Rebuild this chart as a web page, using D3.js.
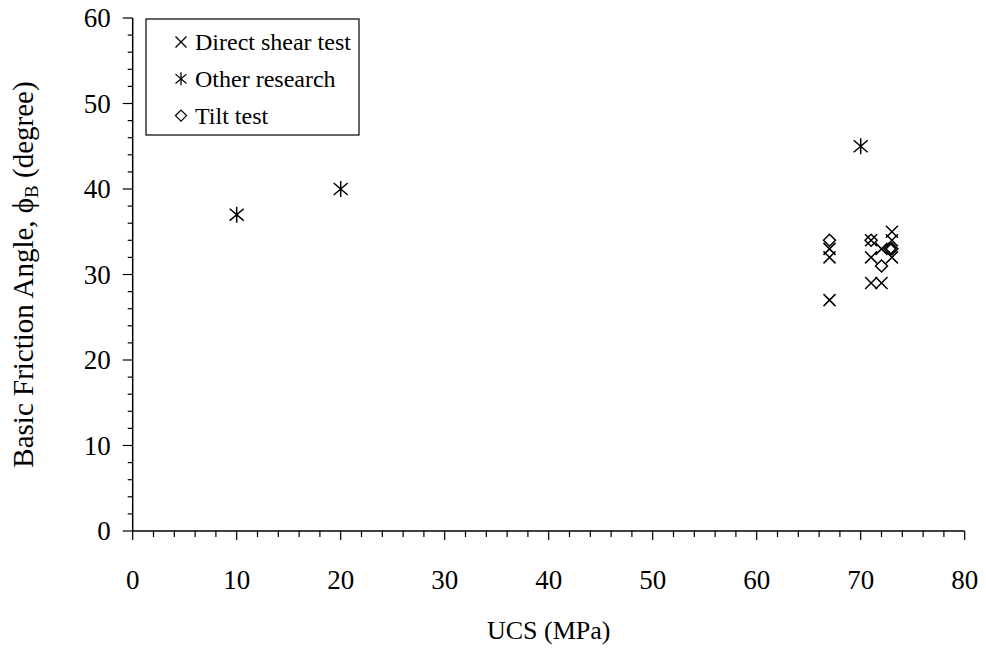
<!DOCTYPE html>
<html>
<head>
<meta charset="utf-8">
<script src="https://cdn.jsdelivr.net/npm/d3@7"></script>
<style>
  html, body { margin: 0; padding: 0; background: #fff; }
</style>
</head>
<body>
<svg id="chart" width="986" height="655" font-family="'Liberation Serif', 'Times New Roman', serif"></svg>
<script>
// UCS (MPa) vs basic friction angle (degree)
const directShearUCS   = [67, 67, 67, 71, 71, 71, 72, 72, 73, 73, 73];
const directShearPhi   = [33, 32, 27, 34, 32, 29, 33, 29, 35, 34, 32];
const otherResearchUCS = [10, 20, 70];
const otherResearchPhi = [37, 40, 45];
const tiltTestUCS      = [67, 71, 72, 72.8, 73];
const tiltTestPhi      = [34, 34, 31, 33, 33];

const xTicks = [0, 10, 20, 30, 40, 50, 60, 70, 80];
const yTicks = [0, 10, 20, 30, 40, 50, 60];
const legendLabels = ["Direct shear test", "Other research", "Tilt test"];

const SERIF = "'Liberation Serif', 'Times New Roman', serif";
const svg = d3.select("#chart");
const x = d3.scaleLinear().domain([0, 80]).range([132.7, 964.7]);
const y = d3.scaleLinear().domain([0, 60]).range([531, 18]);

// marker shapes centred on (0,0)
function crossPath(r) {
  return `M${-r},${-r}L${r},${r}M${r},${-r}L${-r},${r}`;
}
function asteriskPath(r, v) {
  return `M${-r},${-r * 0.85}L${r},${r * 0.85}M${r},${-r * 0.85}L${-r},${r * 0.85}M0,${-v}L0,${v}`;
}
function diamondPath(r) {
  return `M0,${-r}L${r},0L0,${r}L${-r},0Z`;
}

function label(sel, size) {
  return sel.attr("font-family", SERIF).attr("font-size", size).attr("fill", "#000");
}

// x axis
const minorX = d3.range(0, 81, 2);
const xAxis = svg.append("g").attr("transform", `translate(0,${y(0)})`);
xAxis.append("line").attr("x1", x(0)).attr("x2", x(80)).attr("stroke", "#000").attr("stroke-width", 1.5);
xAxis.selectAll(".mtx").data(minorX).join("line")
  .attr("x1", d => x(d)).attr("x2", d => x(d))
  .attr("y1", 0).attr("y2", d => xTicks.includes(d) ? 9 : 6)
  .attr("stroke", "#000").attr("stroke-width", 1.2);
label(xAxis.selectAll(".lx").data(xTicks).join("text"), 27)
  .attr("x", d => x(d)).attr("y", 58)
  .attr("text-anchor", "middle")
  .text(d => d);

// y axis
const minorY = d3.range(0, 61, 2);
const yAxis = svg.append("g").attr("transform", `translate(${x(0)},0)`);
yAxis.append("line").attr("y1", y(0)).attr("y2", y(60)).attr("stroke", "#000").attr("stroke-width", 1.5);
yAxis.selectAll(".mty").data(minorY).join("line")
  .attr("y1", d => y(d)).attr("y2", d => y(d))
  .attr("x1", 0).attr("x2", d => yTicks.includes(d) ? -10 : -5)
  .attr("stroke", "#000").attr("stroke-width", 1.2);
label(yAxis.selectAll(".ly").data(yTicks).join("text"), 27)
  .attr("x", -22).attr("y", d => y(d)).attr("dy", "0.35em")
  .attr("text-anchor", "end")
  .text(d => d);

// axis titles
label(svg.append("text"), 26)
  .attr("x", (x(0) + x(80)) / 2).attr("y", 639)
  .attr("text-anchor", "middle")
  .text("UCS (MPa)");

const yTitle = label(svg.append("text"), 29)
  .attr("transform", `translate(33,${(y(0) + y(60)) / 2}) rotate(-90)`)
  .attr("text-anchor", "middle");
yTitle.append("tspan").text("Basic Friction Angle, \u03D5");
yTitle.append("tspan").attr("font-size", 19).attr("dy", 5).text("B");
yTitle.append("tspan").attr("dy", -5).text(" (degree)");

// data markers
const plot = svg.append("g");
function drawSeries(xs, ys, pathFn) {
  plot.append("g").selectAll("path").data(xs.map((v, i) => [v, ys[i]])).join("path")
    .attr("transform", d => `translate(${x(d[0])},${y(d[1])})`)
    .attr("d", pathFn)
    .attr("fill", "none").attr("stroke", "#000").attr("stroke-width", 1.5);
}
drawSeries(directShearUCS, directShearPhi, () => crossPath(6));
drawSeries(otherResearchUCS, otherResearchPhi, () => asteriskPath(7, 8));
drawSeries(tiltTestUCS, tiltTestPhi, () => diamondPath(6));

// legend
const legend = svg.append("g");
legend.append("rect")
  .attr("x", 146).attr("y", 19).attr("width", 213).attr("height", 116)
  .attr("fill", "#fff").attr("stroke", "#000").attr("stroke-width", 1.2);
const legendShapes = [() => crossPath(5.5), () => asteriskPath(5.5, 6.5), () => diamondPath(5.5)];
legendLabels.forEach((lab, i) => {
  const cy = 42 + i * 36.8;
  legend.append("path")
    .attr("transform", `translate(181,${cy})`)
    .attr("d", legendShapes[i]())
    .attr("fill", "none").attr("stroke", "#000").attr("stroke-width", 1.3);
  label(legend.append("text"), 24)
    .attr("x", 195).attr("y", cy).attr("dy", "0.35em")
    .text(lab);
});
</script>
</body>
</html>
